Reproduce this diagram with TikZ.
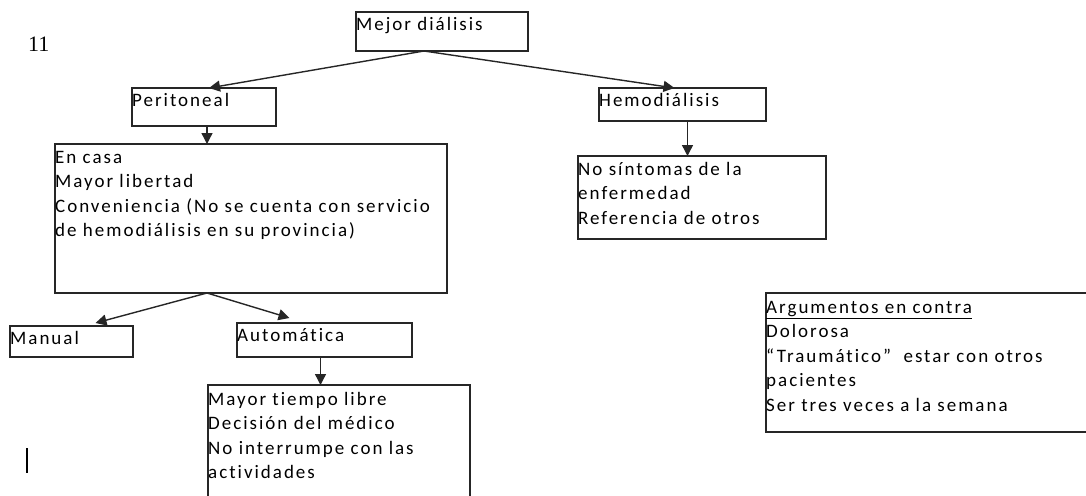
\documentclass[tikz,border=0pt]{standalone}
\usepackage{fontspec}
\setmainfont{Carlito}[LetterSpace=10.5, Ligatures=NoCommon]
\newfontfamily\numfont{Liberation Serif}
\usetikzlibrary{arrows.meta,calc}
\begin{document}
\begin{tikzpicture}[x=1pt,y=-1pt,
  box/.style={draw=black!85, line width=1.3pt, rectangle, inner sep=0pt, outer sep=0pt, anchor=north west},
  txt/.style={anchor=north west, inner sep=0pt, align=left, font=\fontsize{19}{24.5}\selectfont, text=black},
  arr/.style={draw=black!85, line width=1.4pt, -{Triangle[length=11pt,width=11pt]}}
]
\useasboundingbox (0,0) rectangle (1086,495);

\node[anchor=base west, inner sep=0pt, font=\numfont\fontsize{22}{26}\selectfont] (num) at (28,52) {11};
\draw[line width=2pt] (27,448) coordinate (bartop) -- (27,473) coordinate (barbot);

\node[box, minimum width=172pt, minimum height=39pt,
  label={[txt, yshift=-1pt]north west:\strut Mejor diálisis}] (mejor) at (356,12) {};
\node[box, minimum width=144pt, minimum height=38pt,
  label={[txt, yshift=-1pt]north west:\strut Peritoneal}] (peri) at (132,88) {};
\node[box, minimum width=167pt, minimum height=33pt,
  label={[txt, yshift=-1pt]north west:\strut Hemodiálisis}] (hemo) at (599,88) {};
\node[box, minimum width=392pt, minimum height=149pt,
  label={[txt, yshift=-2pt]north west:\strut En casa\\Mayor libertad\\Conveniencia (No se cuenta con servicio\\de hemodiálisis en su provincia)}] (encasa) at (55,144) {};
\node[box, minimum width=248pt, minimum height=83pt,
  label={[txt, yshift=-2pt]north west:\strut No síntomas de la\\enfermedad\\Referencia de otros}] (nosint) at (578,156) {};
\node[box, minimum width=123pt, minimum height=31pt,
  label={[txt, yshift=-1pt]north west:\strut Manual}] (manual) at (10,326) {};
\node[box, minimum width=175pt, minimum height=34pt,
  label={[txt, yshift=-1pt]north west:\strut Automática}] (auto) at (237,323) {};
\node[box, minimum width=262pt, minimum height=120pt,
  label={[txt, yshift=-3pt]north west:\strut Mayor tiempo libre\\Decisión del médico\\No interrumpe con las\\actividades}] (tiempo) at (208,385) {};
\node[box, minimum width=330pt, minimum height=139pt,
  label={[txt, yshift=-3pt]north west:\strut \underline{Argumentos en contra}\\Dolorosa\\“Traumático”\ \ estar con otros\\pacientes\\Ser tres veces a la semana}] (contra) at (766,293) {};

\draw[arr] ([xshift=-18pt]mejor.south) -- ([xshift=5pt]peri.north);
\draw[arr] ([xshift=-18pt]mejor.south) -- ([xshift=-8pt]hemo.north);
\draw[arr] ([xshift=3pt]peri.south) -- ([xshift=3pt]peri.south |- encasa.north);
\draw[arr] ([xshift=5pt]hemo.south) -- ([xshift=5pt]hemo.south |- nosint.north);
\draw[arr] ([xshift=-44pt]encasa.south) -- ([xshift=24pt,yshift=3pt]manual.north);
\draw[arr] ([xshift=-44pt]encasa.south) -- ([xshift=-35pt,yshift=5pt]auto.north);
\draw[arr] ([xshift=-4pt]auto.south) -- ([xshift=-4pt]auto.south |- tiempo.north);
\end{tikzpicture}
\end{document}
